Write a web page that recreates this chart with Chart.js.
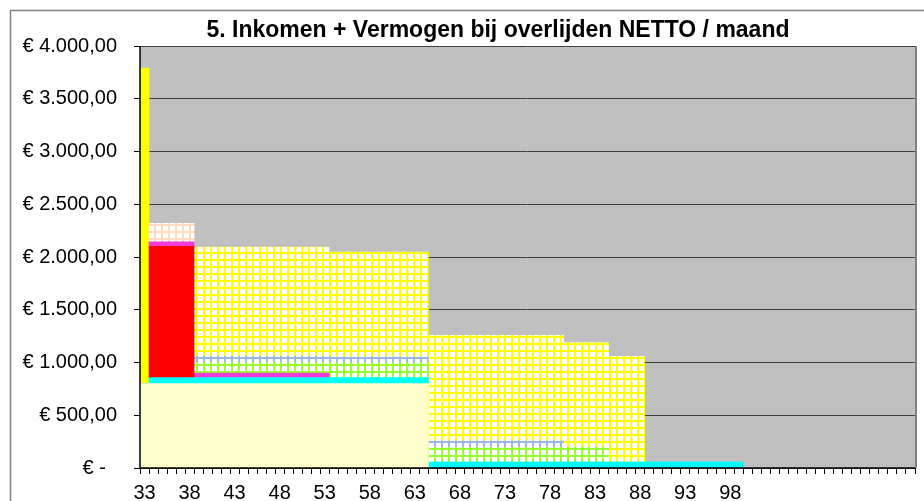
<!DOCTYPE html>
<html>
<head>
<meta charset="utf-8">
<script src="https://cdn.jsdelivr.net/npm/chart.js@4.4.1/dist/chart.umd.min.js"></script>
<style>
  body { margin: 0; background: #fff; }
  #wrap { width: 924px; height: 501px; }
</style>
</head>
<body>
<div id="wrap"><canvas id="chart" width="924" height="501"></canvas></div>
<script>
const chartTitle = '5. Inkomen + Vermogen bij overlijden NETTO / maand';

// leeftijden (x-as)
const ages = [
  33, 34, 35, 36, 37, 38, 39, 40, 41, 42,
  43, 44, 45, 46, 47, 48, 49, 50, 51, 52,
  53, 54, 55, 56, 57, 58, 59, 60, 61, 62,
  63, 64, 65, 66, 67, 68, 69, 70, 71, 72,
  73, 74, 75, 76, 77, 78, 79, 80, 81, 82,
  83, 84, 85, 86, 87, 88, 89, 90, 91, 92,
  93, 94, 95, 96, 97, 98, 99, 100, 101, 102,
  103, 104, 105, 106, 107, 108, 109, 110, 111, 112,
  113, 114, 115, 116, 117, 118
];
const xTickLabels = [33, 38, 43, 48, 53, 58, 63, 68, 73, 78, 83, 88, 93, 98];

// bedragen per maand, vanaf leeftijd 33
const basis = [
  800, 800, 800, 800, 800, 800, 800, 800,
  800, 800, 800, 800, 800, 800, 800, 800,
  800, 800, 800, 800, 800, 800, 800, 800,
  800, 800, 800, 800, 800, 800, 800, 800
];
const cyanDeel = [
  0,
  57, 57, 57, 57, 57, 57, 57, 57, 57, 57, 57,
  57, 57, 57, 57, 57, 57, 57, 57, 57, 57, 57,
  57, 57, 57, 57, 57, 57, 57, 57, 57, 57, 57,
  57, 57, 57, 57, 57, 57, 57, 57, 57, 57, 57,
  57, 57, 57, 57, 57, 57, 57, 57, 57, 57, 57,
  57, 57, 57, 57, 57, 57, 57, 57, 57, 57, 57
];
const roodDeel = [0, 1245, 1245, 1245, 1245, 1245];
const rozeDeel = [
  0,
  42, 42, 42, 42, 42,
  42, 42, 42, 42, 42, 42, 42, 42, 42, 42, 42, 42, 42, 42, 42
];
const groenDeel = [
  0, 0, 0, 0, 0, 0,
  104, 104, 104, 104, 104, 104, 104, 104, 104, 104, 104, 104, 104, 104, 104,
  143, 143, 143, 143, 143, 143, 143, 143, 143, 143, 143,
  143, 143, 143, 143, 143, 143, 143, 143, 143, 143,
  143, 143, 143, 143, 143, 143, 143, 143, 143, 143
];
const blauwDeel = [
  0, 0, 0, 0, 0, 0,
  57, 57, 57, 57, 57, 57, 57, 57, 57, 57, 57, 57, 57, 57, 57,
  52, 52, 52, 52, 52, 52, 52, 52, 52, 52, 52,
  57, 57, 57, 57, 57, 57, 57, 57, 57, 57, 57, 57, 57, 57, 57
];
const geelRasterDeel = [
  0, 0, 0, 0, 0, 0,
  1035, 1035, 1035, 1035, 1035, 1035, 1035, 1035, 1035, 1035, 1035, 1035, 1035, 1035, 1035,
  995, 995, 995, 995, 995, 995, 995, 995, 995, 995, 995,
  1001, 1001, 1001, 1001, 1001, 1001, 1001, 1001, 1001, 1001, 1001, 1001, 1001, 1001, 1001,
  989, 989, 989, 989, 989,
  1002, 1002, 1002, 1002
];
const perzikDeel = [0, 175, 175, 175, 175, 175];
const geelDeel = [2990];

const canvas = document.getElementById('chart');
const ctx = canvas.getContext('2d');

// wit vlak met gekleurd raster, 7px per vakje
function gridPattern(lineColor) {
  const c = document.createElement('canvas');
  c.width = 7;
  c.height = 7;
  const g = c.getContext('2d');
  g.fillStyle = '#ffffff';
  g.fillRect(0, 0, 7, 7);
  g.fillStyle = lineColor;
  g.fillRect(0, 0, 7, 2);
  g.fillRect(0, 0, 2, 7);
  return ctx.createPattern(c, 'repeat');
}

function euro(v) {
  if (v === 0) return '€ -  ';
  const parts = v.toFixed(2).split('.');
  const whole = parts[0].replace(/\B(?=(\d{3})+(?!\d))/g, '.');
  return '€ ' + whole + ',' + parts[1];
}

const FONT = '"Liberation Sans", Arial, sans-serif';

const frame = {
  id: 'frame',
  beforeDraw(chart) {
    const { ctx, chartArea: a } = chart;
    ctx.save();
    ctx.strokeStyle = '#808080';
    ctx.lineWidth = 1.5;
    ctx.strokeRect(10.5, 10.5, 1000, 1000);
    ctx.fillStyle = '#C0C0C0';
    ctx.fillRect(a.left, a.top, a.right - a.left, a.bottom - a.top);
    ctx.restore();
  },
  afterDatasetsDraw(chart) {
    const { ctx, chartArea: a } = chart;
    ctx.save();
    ctx.strokeStyle = '#808080';
    ctx.lineWidth = 2;
    ctx.beginPath();
    ctx.moveTo(a.right + 1, a.top);
    ctx.lineTo(a.right + 1, a.bottom);
    ctx.stroke();
    ctx.strokeStyle = '#000000';
    ctx.lineWidth = 1.5;
    ctx.beginPath();
    ctx.moveTo(a.left, a.top);
    ctx.lineTo(a.left, a.bottom);
    ctx.lineTo(a.right, a.bottom);
    ctx.stroke();
    ctx.fillStyle = '#000000';
    ctx.font = 'bold 23px ' + FONT;
    ctx.textAlign = 'center';
    ctx.textBaseline = 'alphabetic';
    ctx.fillText(chartTitle, 498, 37);
    ctx.restore();
  }
};

function bar(data, color) {
  return {
    data: data,
    backgroundColor: color,
    borderWidth: 0,
    barPercentage: 1,
    categoryPercentage: 1,
    stack: 'netto'
  };
}

new Chart(canvas, {
  type: 'bar',
  data: {
    labels: ages,
    datasets: [
      bar(basis, '#FFFFCC'),
      bar(cyanDeel, '#00FFFF'),
      bar(roodDeel, '#FF0000'),
      bar(rozeDeel, '#F23CDA'),
      bar(groenDeel, gridPattern('#99FF33')),
      bar(blauwDeel, gridPattern('#99B8E8')),
      bar(geelRasterDeel, gridPattern('#FFFF00')),
      bar(perzikDeel, gridPattern('#FFDCC0')),
      bar(geelDeel, '#FFFF00')
    ]
  },
  options: {
    responsive: false,
    animation: false,
    events: [],
    layout: { padding: { left: 0, top: 46, right: 9, bottom: 0 } },
    plugins: {
      legend: { display: false },
      title: { display: false },
      tooltip: { enabled: false }
    },
    scales: {
      x: {
        stacked: true,
        offset: true,
        afterFit(scale) { scale.height = 33; },
        grid: {
          offset: true,
          drawOnChartArea: false,
          drawTicks: true,
          tickLength: 6,
          tickColor: '#000000'
        },
        border: { display: false },
        ticks: {
          autoSkip: false,
          maxRotation: 0,
          minRotation: 0,
          padding: 7,
          color: '#000000',
          font: { family: FONT, size: 20 },
          callback(value) {
            const age = ages[value];
            return xTickLabels.includes(age) ? String(age) : '';
          }
        }
      },
      y: {
        stacked: true,
        min: 0,
        max: 4000,
        afterFit(scale) { scale.width = 140; },
        grid: {
          color: '#404040',
          lineWidth: 1,
          drawTicks: true,
          tickLength: 6,
          tickColor: '#000000'
        },
        border: { display: false },
        ticks: {
          stepSize: 500,
          padding: 17,
          color: '#000000',
          font: { family: FONT, size: 20 },
          callback(value) { return euro(value); }
        }
      }
    }
  },
  plugins: [frame]
});
</script>
</body>
</html>
